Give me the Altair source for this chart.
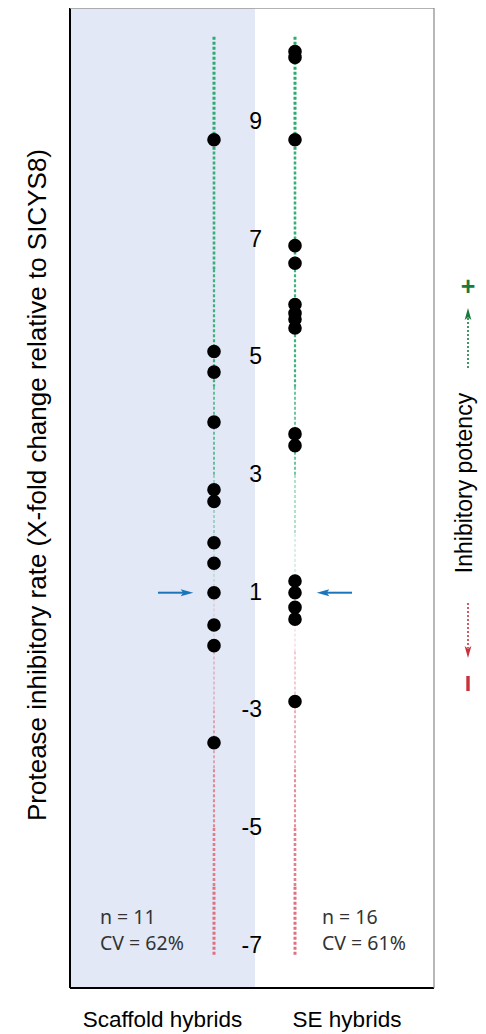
import altair as alt
import pandas as pd

# ---------------- data ----------------
groups = ["Scaffold hybrids", "SE hybrids"]
scaffold_vals = [8.7, 5.1, 4.75, 3.9, 2.75, 2.55, 1.85, 1.5, 1.0, -1.55, -1.9, -3.55]
se_vals = [10.2, 10.1, 8.7, 6.9, 6.6, 5.9, 5.75, 5.65, 5.5, 3.7, 3.5, 1.2, 1.0,
           -1.25, -1.45, -2.85]
tick_vals = [9, 7, 5, 3, 1, -3, -5, -7]
n_labels = ["n = 11", "n = 16"]
cv_labels = ["CV = 62%", "CV = 61%"]
reference_val = 1.0
line_top, line_bottom = 10.45, -7.16

# ---------------- layout constants ----------------
W, H = 364, 980
col_x = [144, 225]          # pixel centre of each column in the plot
label_x = [92.5, 277]
stat_x = [30, 252]
YDOM = [-5.72, 10.94]       # positions (fold-change with the -1..1 gap removed)
ANN_X = 398                 # x of the right-hand annotation symbols

def pos(v):
    return v if v >= 1 else v + 2

ysc = alt.Scale(domain=YDOM, nice=False, zero=False)

def Y(field="pos"):
    return alt.Y(f"{field}:Q", scale=ysc, axis=None)

one = pd.DataFrame({"k": [0]})

# background panel
shade = alt.Chart(one).mark_rect(color="#e2e8f5").encode(
    x=alt.value(0), x2=alt.value(185), y=alt.value(0), y2=alt.value(H))

# frame
frame = [
    alt.Chart(one).mark_rule(color="#000", strokeWidth=2).encode(
        x=alt.value(0), y=alt.value(0), y2=alt.value(H)),
    alt.Chart(one).mark_rule(color="#000", strokeWidth=2).encode(
        x=alt.value(0), x2=alt.value(W), y=alt.value(H)),
    alt.Chart(one).mark_rule(color="#999", strokeWidth=1.5).encode(
        x=alt.value(0), x2=alt.value(W), y=alt.value(0)),
    alt.Chart(one).mark_rule(color="#888", strokeWidth=1.2).encode(
        x=alt.value(W), y=alt.value(0), y2=alt.value(H)),
]

# dotted guide lines (style segments)
green_breaks = [line_top, 8.5, 6.5, 4.5, 3.0, 2.0, 1.05]
green_w = [3.0, 2.6, 2.2, 1.7, 1.2, 0.8]
green_o = [1.0, 0.95, 0.9, 0.8, 0.6, 0.45]
red_breaks = [-1.1, -2.0, -3.0, -4.0, -5.0, -6.0, line_bottom]
red_w = [0.8, 1.2, 1.6, 2.1, 2.6, 3.0]
red_o = [0.45, 0.6, 0.7, 0.8, 0.9, 1.0]
seg_rows = []
for i in range(6):
    seg_rows.append(dict(pos=pos(green_breaks[i]), pos2=pos(green_breaks[i + 1]),
                         w=green_w[i], o=green_o[i], c="#2bab6f"))
    seg_rows.append(dict(pos=pos(red_breaks[i]), pos2=pos(red_breaks[i + 1]),
                         w=red_w[i], o=red_o[i], c="#e0707e"))
segs = pd.DataFrame(seg_rows)

layers = [shade]
for gx in col_x:
    layers.append(
        alt.Chart(segs).mark_rule(strokeDash=[3, 2]).encode(
            x=alt.value(gx), y=Y(), y2="pos2:Q",
            strokeWidth=alt.StrokeWidth("w:Q", scale=None),
            opacity=alt.Opacity("o:Q", scale=None),
            color=alt.Color("c:N", scale=None)))

# points
for vals, gx in zip([scaffold_vals, se_vals], col_x):
    df = pd.DataFrame({"v": vals})
    df["pos"] = [pos(v) for v in vals]
    layers.append(alt.Chart(df).mark_circle(size=185, color="#000", opacity=1).encode(
        x=alt.value(gx), y=Y()))

# tick labels in the middle
tdf = pd.DataFrame({"t": [str(t) for t in tick_vals], "pos": [pos(t) for t in tick_vals]})
layers.append(alt.Chart(tdf).mark_text(
    align="right", baseline="middle", fontSize=23, font="Liberation Sans",
    color="#000").encode(x=alt.value(192), y=Y(), text="t:N"))

# blue reference arrows
rdf = pd.DataFrame({"pos": [pos(reference_val)]})
blue = "#1b75bb"
arrow_path = "M-1,-0.55L1,0L-1,0.55L-0.6,0Z"
layers += [
    alt.Chart(rdf).mark_rule(color=blue, strokeWidth=2).encode(
        x=alt.value(88), x2=alt.value(114), y=Y()),
    alt.Chart(rdf).mark_point(shape=arrow_path, filled=True, color=blue,
                              opacity=1, size=160).encode(x=alt.value(117), y=Y()),
    alt.Chart(rdf).mark_rule(color=blue, strokeWidth=2).encode(
        x=alt.value(256), x2=alt.value(282), y=Y()),
    alt.Chart(rdf).mark_point(shape=arrow_path, filled=True, color=blue,
                              opacity=1, size=160, angle=180).encode(
        x=alt.value(253), y=Y()),
]

# n / CV text and group labels
for i in range(2):
    layers.append(alt.Chart(pd.DataFrame({"s": [n_labels[i]]})).mark_text(
        align="left", baseline="middle", fontSize=19.5, font="Noto Sans",
        color="#333").encode(x=alt.value(stat_x[i]), y=alt.value(910), text="s:N"))
    layers.append(alt.Chart(pd.DataFrame({"s": [cv_labels[i]]})).mark_text(
        align="left", baseline="middle", fontSize=19.5, font="Noto Sans",
        color="#333").encode(x=alt.value(stat_x[i]), y=alt.value(936), text="s:N"))
    layers.append(alt.Chart(pd.DataFrame({"s": [groups[i]]})).mark_text(
        align="center", baseline="middle", fontSize=22.5, font="Liberation Sans",
        color="#000").encode(x=alt.value(label_x[i]), y=alt.value(1012), text="s:N"))

# y axis title
layers.append(alt.Chart(pd.DataFrame({"s": ["Protease inhibitory rate (X-fold change relative to SICYS8)"]})).mark_text(
    angle=270, align="center", baseline="middle", fontSize=26, font="Liberation Sans",
    color="#000").encode(x=alt.value(-32), y=alt.value(477), text="s:N"))

# right annotation: Inhibitory potency
green_dark = "#1a7a3c"
red_dark = "#c8323c"
layers += [
    alt.Chart(pd.DataFrame({"s": ["Inhibitory potency"]})).mark_text(
        angle=270, align="center", baseline="middle", fontSize=23,
        font="Liberation Sans", color="#000").encode(
        x=alt.value(ANN_X - 3), y=alt.value(475), text="s:N"),
    alt.Chart(pd.DataFrame({"s": ["+"]})).mark_text(
        align="center", baseline="middle", fontSize=25, fontWeight="bold",
        font="Liberation Sans", color=green_dark).encode(
        x=alt.value(ANN_X), y=alt.value(279), text="s:N"),
    alt.Chart(one).mark_rule(color=green_dark, strokeWidth=1.6, strokeDash=[2, 2]).encode(
        x=alt.value(ANN_X), y=alt.value(310), y2=alt.value(362)),
    alt.Chart(one).mark_point(shape="M-0.55,1L0,-1L0.55,1L0,0.55Z", filled=True,
                              color=green_dark, opacity=1, size=150).encode(
        x=alt.value(ANN_X), y=alt.value(306)),
    alt.Chart(one).mark_rule(color=red_dark, strokeWidth=1.6, strokeDash=[2, 2]).encode(
        x=alt.value(ANN_X), y=alt.value(595), y2=alt.value(640)),
    alt.Chart(one).mark_point(shape="M-0.55,-1L0,1L0.55,-1L0,-0.55Z", filled=True,
                              color=red_dark, opacity=1, size=150).encode(
        x=alt.value(ANN_X), y=alt.value(644)),
    alt.Chart(one).mark_rule(color=red_dark, strokeWidth=3.4).encode(
        x=alt.value(ANN_X), y=alt.value(668), y2=alt.value(683)),
]

layers += frame

chart = alt.layer(*layers).properties(
    width=W, height=H,
    autosize=alt.AutoSizeParams(type="none"),
    padding={"left": 62, "top": 0, "right": 44, "bottom": 46},
).configure_view(stroke=None)

chart.save("out.html", embed_options={"renderer": "svg", "actions": False})
